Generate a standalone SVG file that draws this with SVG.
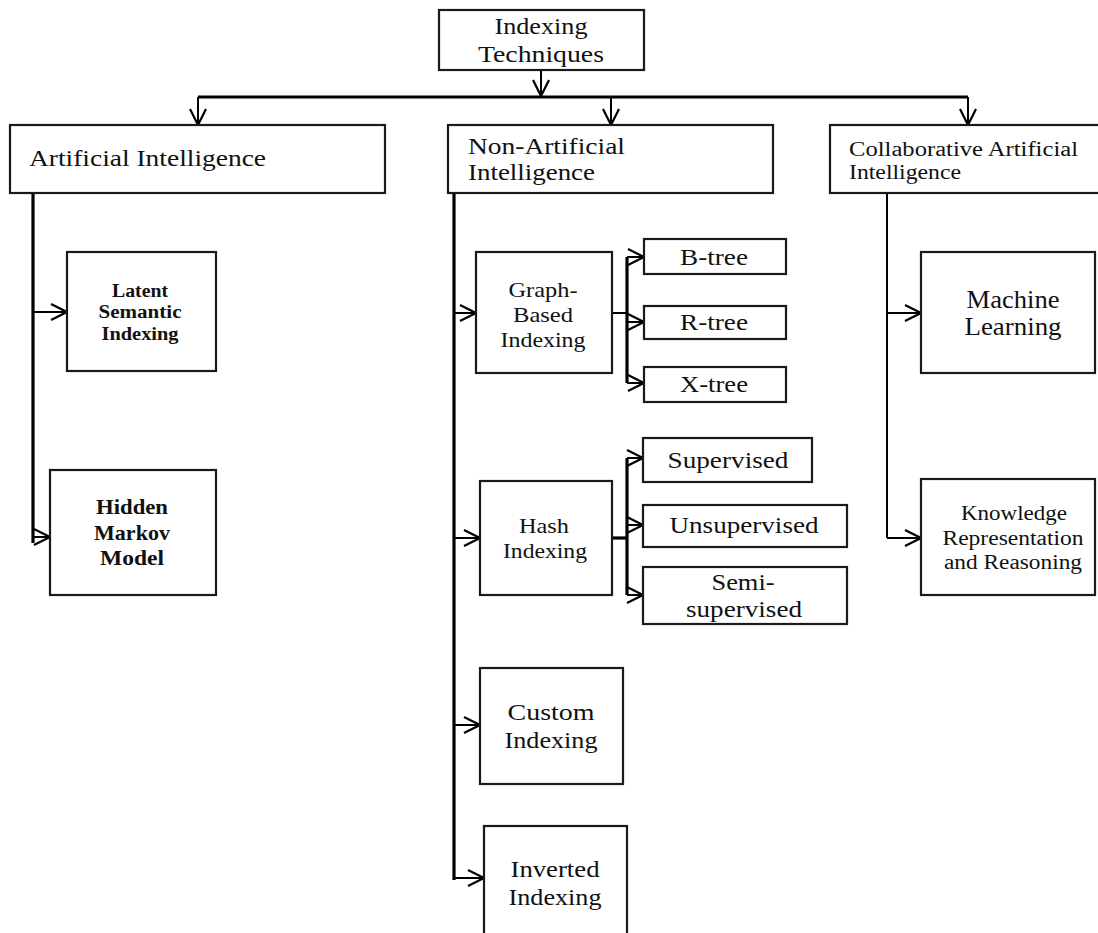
<svg xmlns="http://www.w3.org/2000/svg" width="1098" height="933" viewBox="0 0 1098 933">
<style>
.box{fill:#fff;stroke:#1a1a1a;stroke-width:2.2}
.t{font-family:"Liberation Serif","Times New Roman",serif;fill:#111;text-anchor:middle}
.l{text-anchor:start}
.b{font-weight:bold}
.c{stroke:#000;fill:none;stroke-width:2}
.thick{stroke-width:3.2}
</style>
<defs>
<marker id="arr" viewBox="0 0 18 18" refX="17" refY="9" markerWidth="18" markerHeight="18" markerUnits="userSpaceOnUse" orient="auto">
<path d="M1,1 L17,9 L1,17" fill="none" stroke="#000" stroke-width="2.2"/>
</marker>
</defs>
<rect width="1098" height="933" fill="#fff"/>
<g id="connectors">
<line class="c" x1="541" y1="70" x2="541" y2="96" marker-end="url(#arr)"/>
<line class="c thick" x1="198" y1="97" x2="968" y2="97"/>
<line class="c" x1="198" y1="97" x2="198" y2="125" marker-end="url(#arr)"/>
<line class="c" x1="611" y1="97" x2="611" y2="125" marker-end="url(#arr)"/>
<line class="c" x1="968" y1="97" x2="968" y2="125" marker-end="url(#arr)"/>
<line class="c thick" x1="33" y1="193" x2="33" y2="543"/>
<line class="c" x1="33" y1="312" x2="67" y2="312" marker-end="url(#arr)"/>
<line class="c" x1="33" y1="537" x2="50" y2="537" marker-end="url(#arr)"/>
<line class="c thick" x1="454" y1="193" x2="454" y2="880"/>
<line class="c" x1="454" y1="313" x2="476" y2="313" marker-end="url(#arr)"/>
<line class="c" x1="454" y1="538" x2="480" y2="538" marker-end="url(#arr)"/>
<line class="c" x1="454" y1="725" x2="480" y2="725" marker-end="url(#arr)"/>
<line class="c" x1="454" y1="878" x2="484" y2="878" marker-end="url(#arr)"/>
<line class="c" x1="612" y1="313" x2="627" y2="313"/>
<line class="c thick" x1="627" y1="257" x2="627" y2="383"/>
<line class="c" x1="627" y1="257" x2="644" y2="257" marker-end="url(#arr)"/>
<line class="c" x1="627" y1="322" x2="644" y2="322" marker-end="url(#arr)"/>
<line class="c" x1="627" y1="383" x2="644" y2="383" marker-end="url(#arr)"/>
<line class="c thick" x1="612" y1="538" x2="627" y2="538"/>
<line class="c thick" x1="627" y1="458" x2="627" y2="595"/>
<line class="c" x1="627" y1="458" x2="643" y2="458" marker-end="url(#arr)"/>
<line class="c" x1="627" y1="525" x2="643" y2="525" marker-end="url(#arr)"/>
<line class="c" x1="627" y1="595" x2="643" y2="595" marker-end="url(#arr)"/>
<line class="c" x1="887" y1="193" x2="887" y2="538"/>
<line class="c" x1="887" y1="313" x2="921" y2="313" marker-end="url(#arr)"/>
<line class="c" x1="887" y1="538" x2="921" y2="538" marker-end="url(#arr)"/>
</g>
<g id="root">
<rect class="box" x="439" y="10" width="205" height="60"/>
<text class="t" x="541" y="34" font-size="23" textLength="93" lengthAdjust="spacingAndGlyphs">Indexing</text>
<text class="t" x="541" y="62" font-size="23" textLength="126" lengthAdjust="spacingAndGlyphs">Techniques</text>
</g>
<g id="ai">
<rect class="box" x="10" y="125" width="375" height="68"/>
<text class="t l" x="29" y="166" font-size="24" textLength="237" lengthAdjust="spacingAndGlyphs">Artificial Intelligence</text>
</g>
<g id="nonai">
<rect class="box" x="448" y="125" width="325" height="68"/>
<text class="t l" x="468" y="154" font-size="23" textLength="157" lengthAdjust="spacingAndGlyphs">Non-Artificial</text>
<text class="t l" x="468" y="180" font-size="23" textLength="127" lengthAdjust="spacingAndGlyphs">Intelligence</text>
</g>
<g id="collab">
<rect class="box" x="830" y="125" width="275" height="68"/>
<text class="t l" x="849" y="156" font-size="20" textLength="229" lengthAdjust="spacingAndGlyphs">Collaborative Artificial</text>
<text class="t l" x="849" y="179" font-size="20" textLength="112" lengthAdjust="spacingAndGlyphs">Intelligence</text>
</g>
<g id="lsi">
<rect class="box" x="67" y="252" width="149" height="119"/>
<text class="t b" x="140" y="297" font-size="18" textLength="56" lengthAdjust="spacingAndGlyphs">Latent</text>
<text class="t b" x="140" y="318" font-size="18" textLength="83" lengthAdjust="spacingAndGlyphs">Semantic</text>
<text class="t b" x="140" y="340" font-size="18" textLength="77" lengthAdjust="spacingAndGlyphs">Indexing</text>
</g>
<g id="hmm">
<rect class="box" x="50" y="470" width="166" height="125"/>
<text class="t b" x="132" y="514" font-size="21" textLength="72" lengthAdjust="spacingAndGlyphs">Hidden</text>
<text class="t b" x="132" y="540" font-size="21" textLength="76" lengthAdjust="spacingAndGlyphs">Markov</text>
<text class="t b" x="132" y="565" font-size="21" textLength="64" lengthAdjust="spacingAndGlyphs">Model</text>
</g>
<g id="graph">
<rect class="box" x="476" y="252" width="136" height="121"/>
<text class="t" x="543" y="297" font-size="22" textLength="69" lengthAdjust="spacingAndGlyphs">Graph-</text>
<text class="t" x="543" y="322" font-size="22" textLength="60" lengthAdjust="spacingAndGlyphs">Based</text>
<text class="t" x="543" y="347" font-size="22" textLength="85" lengthAdjust="spacingAndGlyphs">Indexing</text>
</g>
<g id="btree">
<rect class="box" x="644" y="239" width="142" height="35"/>
<text class="t" x="714" y="265" font-size="23" textLength="68" lengthAdjust="spacingAndGlyphs">B-tree</text>
</g>
<g id="rtree">
<rect class="box" x="644" y="306" width="142" height="33"/>
<text class="t" x="714" y="330" font-size="23" textLength="68" lengthAdjust="spacingAndGlyphs">R-tree</text>
</g>
<g id="xtree">
<rect class="box" x="644" y="367" width="142" height="35"/>
<text class="t" x="714" y="392" font-size="23" textLength="68" lengthAdjust="spacingAndGlyphs">X-tree</text>
</g>
<g id="hash">
<rect class="box" x="480" y="481" width="132" height="114"/>
<text class="t" x="544" y="533" font-size="22" textLength="50" lengthAdjust="spacingAndGlyphs">Hash</text>
<text class="t" x="545" y="558" font-size="22" textLength="84" lengthAdjust="spacingAndGlyphs">Indexing</text>
</g>
<g id="supervised">
<rect class="box" x="643" y="438" width="169" height="44"/>
<text class="t" x="728" y="468" font-size="23" textLength="121" lengthAdjust="spacingAndGlyphs">Supervised</text>
</g>
<g id="unsupervised">
<rect class="box" x="643" y="505" width="204" height="42"/>
<text class="t" x="744" y="533" font-size="23" textLength="149" lengthAdjust="spacingAndGlyphs">Unsupervised</text>
</g>
<g id="semi">
<rect class="box" x="643" y="567" width="204" height="57"/>
<text class="t" x="743" y="590" font-size="23" textLength="63" lengthAdjust="spacingAndGlyphs">Semi-</text>
<text class="t" x="744" y="617" font-size="23" textLength="116" lengthAdjust="spacingAndGlyphs">supervised</text>
</g>
<g id="custom">
<rect class="box" x="480" y="668" width="143" height="116"/>
<text class="t" x="551" y="720" font-size="24" textLength="87" lengthAdjust="spacingAndGlyphs">Custom</text>
<text class="t" x="551" y="748" font-size="24" textLength="93" lengthAdjust="spacingAndGlyphs">Indexing</text>
</g>
<g id="inverted">
<rect class="box" x="484" y="826" width="143" height="120"/>
<text class="t" x="555" y="877" font-size="24" textLength="89" lengthAdjust="spacingAndGlyphs">Inverted</text>
<text class="t" x="555" y="905" font-size="24" textLength="93" lengthAdjust="spacingAndGlyphs">Indexing</text>
</g>
<g id="ml">
<rect class="box" x="921" y="252" width="174" height="121"/>
<text class="t" x="1013" y="308" font-size="25" textLength="93" lengthAdjust="spacingAndGlyphs">Machine</text>
<text class="t" x="1013" y="335" font-size="25" textLength="97" lengthAdjust="spacingAndGlyphs">Learning</text>
</g>
<g id="krr">
<rect class="box" x="921" y="479" width="174" height="116"/>
<text class="t" x="1014" y="520" font-size="20" textLength="106" lengthAdjust="spacingAndGlyphs">Knowledge</text>
<text class="t" x="1013" y="545" font-size="20" textLength="141" lengthAdjust="spacingAndGlyphs">Representation</text>
<text class="t" x="1013" y="569" font-size="20" textLength="138" lengthAdjust="spacingAndGlyphs">and Reasoning</text>
</g>
</svg>
